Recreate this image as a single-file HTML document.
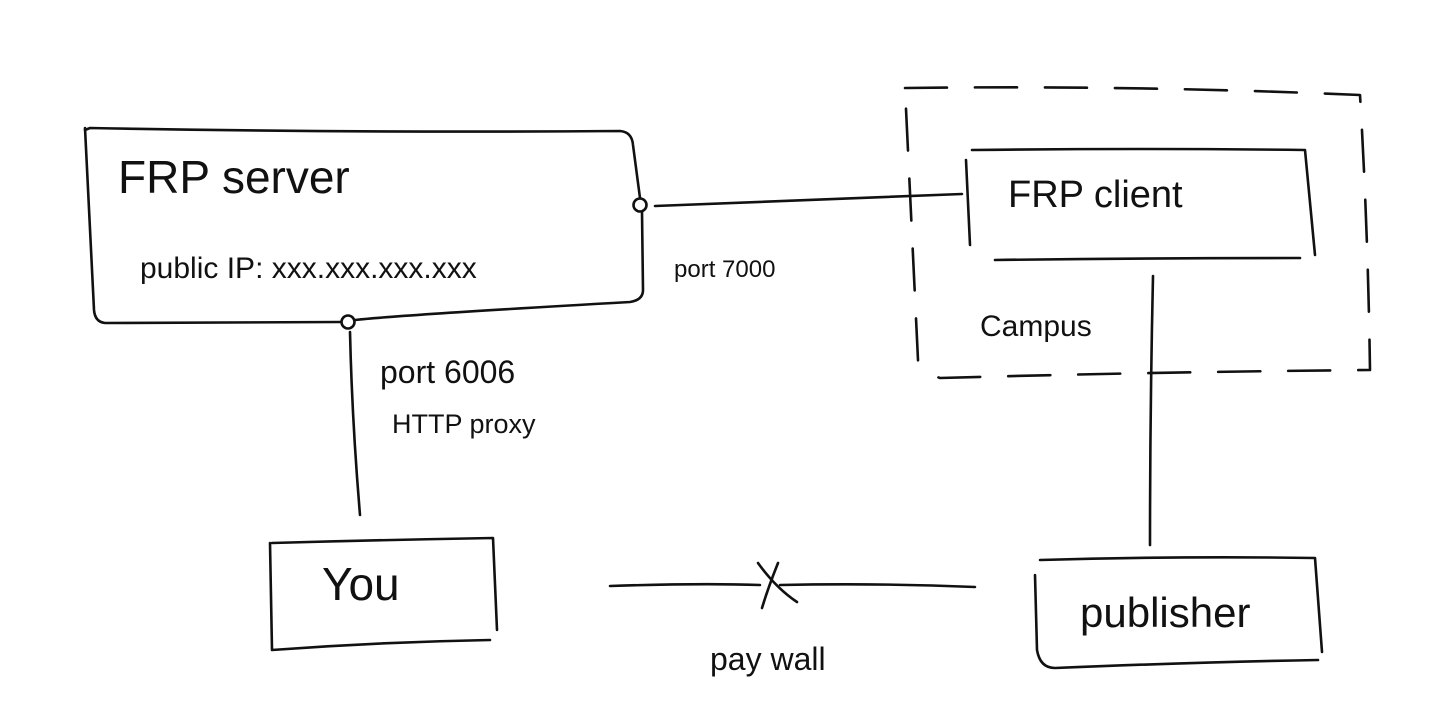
<!DOCTYPE html>
<html><head><meta charset="utf-8"><style>
html,body{margin:0;padding:0;background:#fff;}
svg{display:block}
text{font-family:"Liberation Sans",sans-serif;fill:#111;}
</style></head><body>
<svg width="1445" height="720" viewBox="0 0 1445 720" xmlns="http://www.w3.org/2000/svg">
<g fill="none" stroke="#111" stroke-width="2.6" stroke-linecap="round" stroke-linejoin="round">
<path d="M85,130 L90,128 Q350,133 620,131 Q632,132 633,145 L640,198"/>
<path d="M642,212 L643,290 Q643,300 630,302 Q400,315 355,320"/>
<path d="M341,322 Q200,323 105,323 Q95,322 94,310 L85,128"/>
<circle cx="640" cy="205" r="6.5"/>
<circle cx="348" cy="322" r="6.5"/>
<path d="M655,206 Q800,200 962,194"/>
<path d="M966,160 L970,245"/>
<path d="M972,150 Q1140,148 1305,150 L1315,255"/>
<path d="M995,260 Q1150,258 1300,258"/>
<path d="M905,88 Q1130,85 1360,95 Q1368,230 1370,370 Q1150,372 940,378 Q918,370 918,360 L905,88" stroke-dasharray="42,28"/>
<path d="M1153,276 Q1150,410 1150,545"/>
<path d="M350,332 Q352,420 360,515"/>
<path d="M270,543 L272,650 Q380,642 490,640"/>
<path d="M272,543 Q380,540 493,538 L497,630"/>
<path d="M1035,575 L1037,650 Q1040,668 1055,668 Q1200,662 1318,660"/>
<path d="M1040,560 Q1180,556 1315,558 L1322,652"/>
<path d="M610,586 Q700,583 760,585"/>
<path d="M780,585 Q880,583 975,587"/>
<path d="M758,563 Q776,588 797,602"/>
<path d="M778,563 Q768,588 762,608"/>
</g>
<text x="118" y="193" font-size="46">FRP server</text>
<text x="140" y="278" font-size="30">public IP: xxx.xxx.xxx.xxx</text>
<text x="674" y="277" font-size="24">port 7000</text>
<text x="380" y="383" font-size="32">port 6006</text>
<text x="392" y="433" font-size="27">HTTP proxy</text>
<text x="1008" y="207" font-size="38">FRP client</text>
<text x="980" y="336" font-size="30">Campus</text>
<text x="322" y="600" font-size="46">You</text>
<text x="1080" y="627" font-size="42">publisher</text>
<text x="710" y="670" font-size="32">pay wall</text>
</svg>
</body></html>
